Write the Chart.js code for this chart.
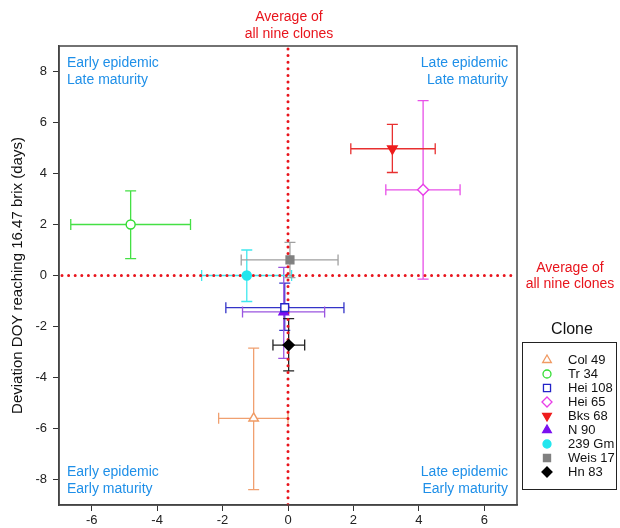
<!DOCTYPE html>
<html>
<head>
<meta charset="utf-8">
<script src="https://cdn.jsdelivr.net/npm/chart.js@4/dist/chart.umd.min.js"></script>
<style>
  body { margin: 0; background: #fff; }
  #wrap { width: 620px; height: 528px; }
</style>
</head>
<body>
<div id="wrap"><canvas id="grafico-cloni"></canvas></div>
<script>
// ------------- dati -------------
const clones = ['Col 49', 'Tr 34', 'Hei 108', 'Hei 65', 'Bks 68', 'N 90', '239 Gm', 'Weis 17', 'Hn 83'];
const xMean = [-1.05, -4.81, -0.10, 4.13, 3.19, -0.13, -1.26, 0.06, 0.02];
const xLow  = [-2.12, -6.64, -1.90, 2.99, 1.92, -1.39, -2.64, -1.43, -0.46];
const xHigh = [0.00, -2.98, 1.71, 5.26, 4.50, 1.12, 0.11, 1.53, 0.51];
const yMean = [-5.60, 2.00, -1.26, 3.36, 4.97, -1.43, 0.00, 0.61, -2.73];
const yLow  = [-8.40, 0.66, -2.15, -0.14, 4.04, -3.25, -1.02, -0.08, -3.74];
const yHigh = [-2.85, 3.32, -0.30, 6.86, 5.93, 0.32, 1.00, 1.30, -1.69];
const xTicks = [-6, -4, -2, 0, 2, 4, 6];
const yTicks = [-8, -6, -4, -2, 0, 2, 4, 6, 8];
// ------------- dati -------------

const colori   = ['#f09a63', '#33dd33', '#2323c8', '#e83ee8', '#ee1c1c', '#7a10f0', '#22e6ee', '#808080', '#000000'];
const coloriEb = ['#f0a070', '#44e044', '#3434c8', '#e850e8', '#e83030', '#9a55e0', '#40e8ee', '#a0a0a0', '#222222'];
const forme    = ['triangle', 'circle', 'rect', 'rectRot', 'triangle', 'triangle', 'circle', 'rect', 'rectRot'];
const rotaz    = [0, 0, 0, 0, 180, 0, 0, 0, 0];
const pieno    = [false, false, false, false, true, true, true, true, true];
const raggio   = [5.5, 4.5, 5.5, 5.5, 5.5, 5.5, 4.5, 5.5, 5.5];

const FONT = '"Liberation Sans", Arial, sans-serif';
const ROSSO = '#e8141c';
const BLU = '#1e8fe8';

const datasets = clones.map((nome, i) => ({
  label: nome,
  data: [{ x: xMean[i], y: yMean[i] }],
  pointStyle: forme[i],
  rotation: rotaz[i],
  pointRadius: raggio[i],
  pointHoverRadius: raggio[i],
  pointBorderWidth: 1.4,
  borderColor: colori[i],
  backgroundColor: pieno[i] ? colori[i] : '#ffffff'
}));

// ------------- barre di errore + linee medie -------------
const pluginErrori = {
  id: 'errori',
  beforeDatasetsDraw(chart) {
    const ctx = chart.ctx;
    const sx = chart.scales.x, sy = chart.scales.y;
    const ca = chart.chartArea;
    const cap = 5.5;
    ctx.save();
    ctx.lineWidth = 1.3;
    clones.forEach((c, i) => {
      const px = sx.getPixelForValue(xMean[i]);
      const py = sy.getPixelForValue(yMean[i]);
      const x1 = sx.getPixelForValue(xLow[i]), x2 = sx.getPixelForValue(xHigh[i]);
      const y1 = sy.getPixelForValue(yLow[i]), y2 = sy.getPixelForValue(yHigh[i]);
      ctx.strokeStyle = coloriEb[i];
      ctx.beginPath();
      ctx.moveTo(x1, py); ctx.lineTo(x2, py);
      ctx.moveTo(x1, py - cap); ctx.lineTo(x1, py + cap);
      ctx.moveTo(x2, py - cap); ctx.lineTo(x2, py + cap);
      ctx.moveTo(px, y1); ctx.lineTo(px, y2);
      ctx.moveTo(px - cap, y1); ctx.lineTo(px + cap, y1);
      ctx.moveTo(px - cap, y2); ctx.lineTo(px + cap, y2);
      ctx.stroke();
    });
    // linee rosse puntinate (media dei nove cloni)
    const x0 = sx.getPixelForValue(0), y0 = sy.getPixelForValue(0);
    ctx.strokeStyle = ROSSO;
    ctx.lineWidth = 3;
    ctx.lineCap = 'round';
    ctx.setLineDash([0, 6.6]);
    ctx.beginPath();
    ctx.moveTo(ca.left + 3, y0); ctx.lineTo(ca.right, y0);
    ctx.moveTo(x0, ca.top + 3); ctx.lineTo(x0, ca.bottom);
    ctx.stroke();
    ctx.restore();
  },
  afterDraw(chart) {
    const ctx = chart.ctx;
    const ca = chart.chartArea;
    const sx = chart.scales.x, sy = chart.scales.y;
    ctx.save();
    // cornice
    ctx.strokeStyle = '#444';
    ctx.lineWidth = 1.5;
    ctx.strokeRect(ca.left, ca.top, ca.right - ca.left, ca.bottom - ca.top);

    // testi
    ctx.font = '14px ' + FONT;
    ctx.textBaseline = 'middle';
    ctx.fillStyle = ROSSO;
    ctx.textAlign = 'center';
    const x0 = sx.getPixelForValue(0), y0 = sy.getPixelForValue(0);
    ctx.fillText('Average of', x0 + 1, 17);
    ctx.fillText('all nine clones', x0 + 1, 34);
    ctx.fillText('Average of', 570, y0 - 7);
    ctx.fillText('all nine clones', 570, y0 + 9);

    ctx.fillStyle = BLU;
    ctx.textAlign = 'left';
    ctx.fillText('Early epidemic', ca.left + 8, ca.top + 17);
    ctx.fillText('Late maturity', ca.left + 8, ca.top + 34);
    ctx.fillText('Early epidemic', ca.left + 8, ca.bottom - 33);
    ctx.fillText('Early maturity', ca.left + 8, ca.bottom - 16);
    ctx.textAlign = 'right';
    ctx.fillText('Late epidemic', ca.right - 9, ca.top + 17);
    ctx.fillText('Late maturity', ca.right - 9, ca.top + 34);
    ctx.fillText('Late epidemic', ca.right - 9, ca.bottom - 33);
    ctx.fillText('Early maturity', ca.right - 9, ca.bottom - 16);

    // legenda
    ctx.fillStyle = '#111';
    ctx.textAlign = 'center';
    ctx.font = '16px ' + FONT;
    ctx.fillText('Clone', 572, 330);
    ctx.strokeStyle = '#222';
    ctx.lineWidth = 1;
    ctx.strokeRect(522.5, 342.5, 94, 147);
    ctx.font = '13px ' + FONT;
    ctx.textAlign = 'left';
    clones.forEach((nome, i) => {
      const ly = 360 + i * 14;
      ctx.fillStyle = pieno[i] ? colori[i] : '#ffffff';
      ctx.strokeStyle = colori[i];
      ctx.lineWidth = 1.3;
      Chart.helpers.drawPoint(ctx, {
        pointStyle: forme[i], rotation: rotaz[i],
        radius: raggio[i] - 0.5, borderWidth: 1.3
      }, 547, ly);
      ctx.fillStyle = '#111';
      ctx.fillText(nome, 568, ly);
    });
    ctx.restore();
  }
};

// ------------- grafico -------------
const ctx = document.getElementById('grafico-cloni').getContext('2d');
const chart = new Chart(ctx, {
  type: 'scatter',
  data: { datasets: datasets },
  options: {
    responsive: true,
    maintainAspectRatio: false,
    animation: false,
    layout: { padding: { left: 0, right: 103, top: 46, bottom: 0 } },
    plugins: {
      legend: { display: false },
      tooltip: { enabled: false }
    },
    scales: {
      x: {
        type: 'linear',
        min: -7, max: 7,
        afterBuildTicks: (s) => { s.ticks = xTicks.map(v => ({ value: v })); },
        afterFit: (s) => { s.height = 23; },
        grid: { drawOnChartArea: false, drawTicks: true, tickLength: 6, color: '#333' },
        border: { display: true, color: '#444', width: 1.5 },
        ticks: { color: '#222', font: { family: FONT, size: 13 }, padding: 2, maxRotation: 0 }
      },
      y: {
        type: 'linear',
        min: -9, max: 9,
        afterBuildTicks: (s) => { s.ticks = yTicks.map(v => ({ value: v })); },
        afterFit: (s) => { s.width = 59; },
        grid: { drawOnChartArea: false, drawTicks: true, tickLength: 6, color: '#333' },
        border: { display: true, color: '#444', width: 1.5 },
        ticks: { color: '#222', font: { family: FONT, size: 13 }, padding: 6 },
        title: {
          display: true,
          text: 'Deviation DOY reaching 16.47 brix (days)',
          color: '#111',
          font: { family: FONT, size: 15 },
          padding: { top: 9, bottom: 0 }
        }
      }
    }
  },
  plugins: [pluginErrori]
});
</script>
</body>
</html>
